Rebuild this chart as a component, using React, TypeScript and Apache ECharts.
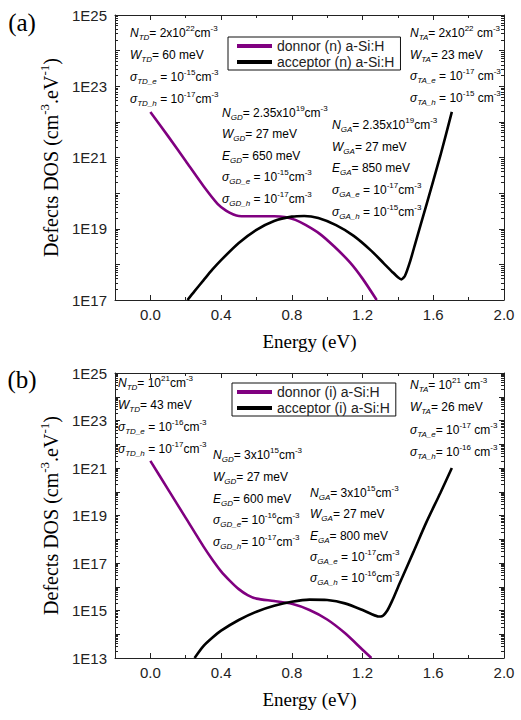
import React, { useEffect, useRef } from "react";
import * as echarts from "echarts";

// ---------- DATA (energy in eV, DOS as log10 of cm^-3 eV^-1) ----------
const energyDonorA = [0.0, 0.1, 0.2, 0.3, 0.38, 0.43, 0.47, 0.5, 0.6, 0.7, 0.76, 0.82, 0.88, 0.96, 1.04, 1.13, 1.2, 1.28];
const logDosDonorA = [22.28, 21.6, 20.9, 20.2, 19.7, 19.5, 19.4, 19.36, 19.35, 19.35, 19.33, 19.25, 19.1, 18.85, 18.5, 18.05, 17.6, 17.0];

const energyAcceptorA = [0.21, 0.25, 0.3, 0.35, 0.4, 0.5, 0.6, 0.7, 0.8, 0.87, 0.95, 1.05, 1.15, 1.25, 1.32, 1.37, 1.4, 1.42, 1.44, 1.47, 1.5, 1.56, 1.64, 1.705];
const logDosAcceptorA = [17.0, 17.25, 17.55, 17.85, 18.12, 18.6, 18.97, 19.22, 19.34, 19.36, 19.3, 19.1, 18.8, 18.38, 18.03, 17.78, 17.64, 17.58, 17.68, 18.1, 18.62, 19.65, 21.05, 22.28];

const energyDonorB = [0.0, 0.1, 0.2, 0.3, 0.35, 0.4, 0.45, 0.5, 0.55, 0.6, 0.7, 0.8, 0.9, 1.0, 1.1, 1.2, 1.25];
const logDosDonorB = [21.3, 20.1, 18.9, 17.7, 17.15, 16.65, 16.25, 15.9, 15.65, 15.5, 15.4, 15.28, 15.02, 14.62, 14.05, 13.35, 13.0];

const energyAcceptorB = [0.25, 0.3, 0.35, 0.4, 0.5, 0.6, 0.7, 0.8, 0.9, 1.0, 1.1, 1.2, 1.25, 1.29, 1.31, 1.34, 1.37, 1.41, 1.49, 1.56, 1.64, 1.705];
const logDosAcceptorB = [13.0, 13.5, 13.85, 14.15, 14.6, 14.95, 15.2, 15.37, 15.46, 15.44, 15.3, 15.02, 14.85, 14.75, 14.76, 15.0, 15.45, 16.15, 17.5, 18.7, 19.95, 21.0];

const seriesNamesA = ["donnor (n) a-Si:H", "acceptor (n) a-Si:H"];
const seriesNamesB = ["donnor (i) a-Si:H", "acceptor (i) a-Si:H"];

const xMajorTicks = [0.0, 0.4, 0.8, 1.2, 1.6, 2.0];
const xMinorTicks = [-0.2, 0.2, 0.6, 1.0, 1.4, 1.8];
const yLabelExpA = [17, 19, 21, 23, 25];
const yLabelExpB = [13, 15, 17, 19, 21, 23, 25];

const panelLabels = ["(a)", "(b)"];
const xTitle = "Energy (eV)";

// annotation texts: *x* italic, _{x} subscript, ^{x} superscript
const donorTailA = ["*N*_{TD}= 2x10^{22}cm^{-3}", "*W*_{TD}= 60 meV", "*σ*_{TD_e} = 10^{-15}cm^{-3}", "*σ*_{TD_h} = 10^{-17}cm^{-3}"];
const donorGaussA = ["*N*_{GD}= 2.35x10^{19}cm^{-3}", "*W*_{GD}= 27 meV", "*E*_{GD}= 650 meV", "*σ*_{GD_e} = 10^{-15}cm^{-3}", "*σ*_{GD_h} = 10^{-17}cm^{-3}"];
const acceptorTailA = ["*N*_{TA}= 2x10^{22} cm^{-3}", "*W*_{TA}= 23 meV", "*σ*_{TA_e} = 10^{-17} cm^{-3}", "*σ*_{TA_h} = 10^{-15} cm^{-3}"];
const acceptorGaussA = ["*N*_{GA}= 2.35x10^{19}cm^{-3}", "*W*_{GA}= 27 meV", "*E*_{GA}= 850 meV", "*σ*_{GA_e} = 10^{-17}cm^{-3}", "*σ*_{GA_h} = 10^{-15}cm^{-3}"];

const donorTailB = ["*N*_{TD}= 10^{21}cm^{-3}", "*W*_{TD}= 43 meV", "*σ*_{TD_e} = 10^{-16}cm^{-3}", "*σ*_{TD_h} = 10^{-17}cm^{-3}"];
const donorGaussB = ["*N*_{GD}= 3x10^{15}cm^{-3}", "*W*_{GD}= 27 meV", "*E*_{GD}= 600 meV", "*σ*_{GD_e}= 10^{-16}cm^{-3}", "*σ*_{GD_h}= 10^{-17}cm^{-3}"];
const acceptorTailB = ["*N*_{TA}= 10^{21} cm^{-3}", "*W*_{TA}= 26 meV", "*σ*_{TA_e}= 10^{-17} cm^{-3}", "*σ*_{TA_h}= 10^{-16} cm^{-3}"];
const acceptorGaussB = ["*N*_{GA}= 3x10^{15}cm^{-3}", "*W*_{GA}= 27 meV", "*E*_{GA}= 800 meV", "*σ*_{GA_e} = 10^{-17}cm^{-3}", "*σ*_{GA_h} = 10^{-16}cm^{-3}"];

// ---------- STYLE ----------
const SANS = "Liberation Sans";
const SERIF = "Liberation Serif";
const PURPLE = "#800080";
const BLACK = "#000000";
const AXIS = "#222222";

function toRich(s: string): string {
  let out = "";
  let buf = "";
  const flush = () => {
    if (buf) {
      out += `{n|${buf}}`;
      buf = "";
    }
  };
  let i = 0;
  while (i < s.length) {
    const c = s[i];
    if (c === "*") {
      const j = s.indexOf("*", i + 1);
      flush();
      out += `{i|${s.slice(i + 1, j)}}`;
      i = j + 1;
    } else if ((c === "_" || c === "^") && s[i + 1] === "{") {
      const j = s.indexOf("}", i);
      flush();
      out += `{${c === "_" ? "sub" : "sup"}|${s.slice(i + 2, j)}}`;
      i = j + 1;
    } else {
      buf += c;
      i++;
    }
  }
  flush();
  return out;
}

function annRich(color: string) {
  return {
    n: { fontSize: 12, fontFamily: SANS, color, lineHeight: 17 },
    i: { fontSize: 12, fontFamily: SANS, fontStyle: "italic", color, lineHeight: 17 },
    sub: { fontSize: 8, fontFamily: SANS, fontStyle: "italic", color, verticalAlign: "bottom", lineHeight: 17 },
    sup: { fontSize: 8, fontFamily: SANS, color, verticalAlign: "top", lineHeight: 17 },
  };
}

function block(lines: string[], x: number, y0: number, dy: number, color: string) {
  return lines.map((t, k) => ({
    type: "text",
    x,
    y: y0 + k * dy,
    silent: true,
    style: {
      text: toRich(t),
      rich: annRich(color),
      align: "left",
      verticalAlign: "middle",
    },
  }));
}

const toPairs = (es: number[], ls: number[]) => es.map((e, k) => [e, Math.pow(10, ls[k])]);
const decades = (a: number, b: number) => {
  const r: number[] = [];
  for (let n = a; n <= b; n++) r.push(Math.pow(10, n));
  return r;
};
const logMinors = (a: number, b: number) => {
  const r: number[] = [];
  for (let n = a; n < b; n++) for (let k = 2; k <= 9; k++) r.push(k * Math.pow(10, n));
  return r;
};

const yTitleRich = {
  t: { fontSize: 20, fontFamily: SERIF, color: BLACK, lineHeight: 26 },
  s: { fontSize: 13, fontFamily: SERIF, color: BLACK, verticalAlign: "top", lineHeight: 26 },
};
const yTitle = "{t|Defects DOS (cm}{s|-3}{t|.eV}{s|-1}{t|)}";

function App() {
  const ref = useRef<HTMLDivElement>(null);
  useEffect(() => {
    if (!ref.current) return;
    const chart = echarts.init(ref.current, undefined, { renderer: "svg" });

    const grids = [
      { left: 115, top: 15, width: 389, height: 285 },
      { left: 115, top: 373, width: 389, height: 285 },
    ];
    const yRanges = [
      [17, 25],
      [13, 25],
    ];
    const yLabelSets = [yLabelExpA, yLabelExpB];
    const line = (show: boolean) => ({ show, onZero: false, lineStyle: { color: AXIS, width: 1 } });

    const xAxes: any[] = [];
    const yAxes: any[] = [];
    grids.forEach((_, g) => {
      const base = { type: "value", gridIndex: g, min: -0.2, max: 2.0, splitLine: { show: false } };
      xAxes.push({
        ...base,
        position: "bottom",
        axisLine: line(true),
        axisTick: { show: true, inside: true, length: 5, customValues: xMajorTicks, lineStyle: { color: AXIS } },
        axisLabel: {
          show: true,
          customValues: xMajorTicks,
          formatter: (v: number) => v.toFixed(1),
          fontSize: 15,
          fontFamily: SANS,
          color: AXIS,
          margin: 7,
        },
        name: xTitle,
        nameLocation: "middle",
        nameGap: 32,
        nameTextStyle: { fontSize: 19, fontFamily: SERIF, color: BLACK },
      });
      xAxes.push({
        ...base,
        position: "top",
        axisLine: line(true),
        axisTick: { show: true, inside: true, length: 5, customValues: xMajorTicks, lineStyle: { color: AXIS } },
        axisLabel: { show: false },
      });
      xAxes.push({
        ...base,
        position: "bottom",
        axisLine: line(false),
        axisTick: { show: true, inside: true, length: 3, customValues: xMinorTicks, lineStyle: { color: AXIS } },
        axisLabel: { show: false },
      });
      xAxes.push({
        ...base,
        position: "top",
        axisLine: line(false),
        axisTick: { show: true, inside: true, length: 3, customValues: xMinorTicks, lineStyle: { color: AXIS } },
        axisLabel: { show: false },
      });

      const [lo, hi] = yRanges[g];
      const ybase = {
        type: "log",
        logBase: 10,
        gridIndex: g,
        min: Math.pow(10, lo),
        max: Math.pow(10, hi),
        splitLine: { show: false },
      };
      yAxes.push({
        ...ybase,
        position: "left",
        axisLine: line(true),
        axisTick: { show: true, inside: true, length: 5, customValues: decades(lo, hi), lineStyle: { color: AXIS } },
        axisLabel: {
          show: true,
          customValues: yLabelSets[g].map((e) => Math.pow(10, e)),
          formatter: (v: number) => "1E" + Math.round(Math.log10(v)),
          fontSize: 15,
          fontFamily: SANS,
          color: AXIS,
          margin: 8,
        },
        name: yTitle,
        nameLocation: "middle",
        nameRotate: 90,
        nameGap: 44,
        nameTextStyle: { rich: yTitleRich },
      });
      yAxes.push({
        ...ybase,
        position: "right",
        axisLine: line(true),
        axisTick: { show: true, inside: true, length: 5, customValues: decades(lo, hi), lineStyle: { color: AXIS } },
        axisLabel: { show: false },
      });
      yAxes.push({
        ...ybase,
        position: "left",
        axisLine: line(false),
        axisTick: { show: true, inside: true, length: 3, customValues: logMinors(lo, hi), lineStyle: { color: AXIS } },
        axisLabel: { show: false },
      });
      yAxes.push({
        ...ybase,
        position: "right",
        axisLine: line(false),
        axisTick: { show: true, inside: true, length: 3, customValues: logMinors(lo, hi), lineStyle: { color: AXIS } },
        axisLabel: { show: false },
      });
    });

    const mkSeries = (name: string, color: string, data: number[][], g: number) => ({
      name,
      type: "line",
      xAxisIndex: g * 4,
      yAxisIndex: g * 4,
      data,
      showSymbol: false,
      smooth: 0.25,
      clip: true,
      lineStyle: { color, width: 2.6 },
      itemStyle: { color },
    });

    const legendBase = {
      orient: "vertical",
      icon: "rect",
      itemWidth: 35,
      itemHeight: 4,
      itemGap: 2,
      borderColor: "#111",
      borderWidth: 1,
      borderRadius: 0,
      backgroundColor: "#fff",
      selectedMode: false,
      textStyle: { fontSize: 14, fontFamily: SANS, color: AXIS },
    };

    const graphics: any[] = [
      { type: "text", x: 22, y: 22, style: { text: panelLabels[0], font: `25px "${SERIF}"`, fill: BLACK, align: "center", verticalAlign: "middle" } },
      { type: "text", x: 22, y: 379, style: { text: panelLabels[1], font: `25px "${SERIF}"`, fill: BLACK, align: "center", verticalAlign: "middle" } },
      ...block(donorTailA, 130, 33, 22, PURPLE),
      ...block(donorGaussA, 222, 113, 21.4, PURPLE),
      ...block(acceptorTailA, 410, 33, 21.7, BLACK),
      ...block(acceptorGaussA, 332, 125, 21.7, BLACK),
      ...block(donorTailB, 118, 383, 22, PURPLE),
      ...block(donorGaussB, 213, 455, 21.8, PURPLE),
      ...block(acceptorTailB, 410, 385, 22.3, BLACK),
      ...block(acceptorGaussB, 310, 493, 21.3, BLACK),
    ];

    chart.setOption({
      animation: false,
      backgroundColor: "#fff",
      grid: grids,
      xAxis: xAxes,
      yAxis: yAxes,
      legend: [
        { ...legendBase, data: seriesNamesA, left: 228, top: 37, padding: [2, 6, 1, 9] },
        { ...legendBase, data: seriesNamesB, left: 232, top: 383, padding: [2, 6, 1, 5] },
      ],
      series: [
        mkSeries(seriesNamesA[0], PURPLE, toPairs(energyDonorA, logDosDonorA), 0),
        mkSeries(seriesNamesA[1], BLACK, toPairs(energyAcceptorA, logDosAcceptorA), 0),
        mkSeries(seriesNamesB[0], PURPLE, toPairs(energyDonorB, logDosDonorB), 1),
        mkSeries(seriesNamesB[1], BLACK, toPairs(energyAcceptorB, logDosAcceptorB), 1),
      ],
      graphic: graphics,
    });

    return () => chart.dispose();
  }, []);

  return <div ref={ref} style={{ position: "absolute", left: 0, top: 0, width: 521, height: 720, background: "#fff" }} />;
}

export default App;
